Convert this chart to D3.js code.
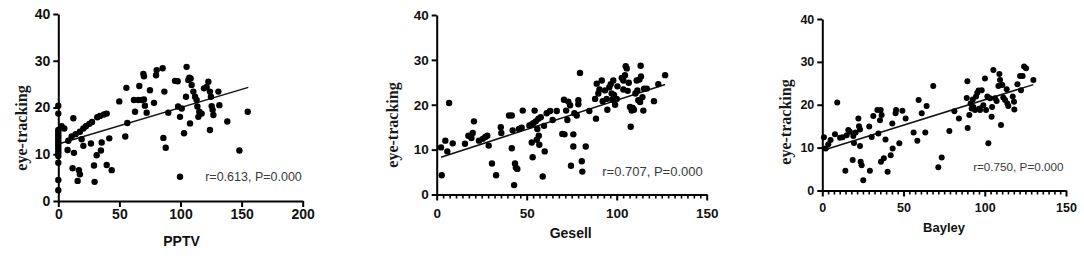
<!DOCTYPE html>
<html><head><meta charset="utf-8">
<script src="https://cdn.jsdelivr.net/npm/d3@7/dist/d3.min.js"></script>
<style>body{margin:0;background:#fff}svg{display:block}</style>
</head><body>
<svg id="c" width="1084" height="256"></svg>
<script>
// ---------- DATA ----------
const pptvX = [0,0,0,0,0,0,0,0,0,0,0,0,0,0,0,0,0,
  2.7,4.9,8.2,7.6,12.3,12.8,11.7,16.9,15.8,17.7,10.9,14.2,17.7,20.5,22.6,25.4,27.6,31.9,34.1,37.4,39.6,
  19.1,20.5,26.7,29.2,29.7,31.4,34.9,35.5,39.6,43.7,41.7,49.9,54.8,55.7,56.5,61.9,62.8,65.5,66.3,68.2,
  69.6,70.1,70.1,70.9,72.3,75,78.3,80,80.5,85.4,86,86.8,87.9,90,95.5,97.7,98,99.6,99.6,101,102.9,104.5,
  105,106.4,107.2,108.3,109.1,107.8,110.5,111.9,113.2,113.8,114.6,115.4,117.3,119.2,121.4,122.8,124.1,
  124.1,124.9,125.5,126.3,126.9,131,131.8,138.3,148.2,155];
const pptvY = [20.4,18.7,15.2,14.8,14.3,13.8,13.3,12.8,12.3,11.8,11.3,10.7,10.2,9.6,8.2,4.5,2.3,
  16.0,15.5,12.9,10.9,17.7,10.3,7.0,6.6,4.3,5.7,13.8,14.3,14.8,15.5,16.0,16.5,16.9,17.9,18.2,18.5,18.7,
  13.2,11.8,12.3,7.6,4.1,9.8,10.8,12.5,7.7,6.6,13.4,21.3,13.8,24.2,16.7,21.6,19.1,21.6,24.6,21.6,
  27.2,26.7,21.7,20.4,18.9,23.7,21.0,26.9,28.0,28.4,13.5,23.4,11.4,18.9,25.7,25.6,20.2,18.0,5.2,19.8,14.5,22.3,
  28.7,25.9,26.4,26.2,24.8,16.6,23.4,22.3,21.6,20.2,18.0,19.1,18.7,24.1,24.4,25.5,15.2,
  23.4,22.3,20.3,19.5,18.4,23.4,20.5,17.0,10.8,19.1];
const pptvFitX = [0, 155.5];
const pptvFitY = [12.2, 24.3];

const gesellX = [2.8,2.4,4.8,5.9,6.9,8.9,15.7,17.6,19.3,20,20.7,23.5,25.6,27,28.1,28.9,30.7,33,35.6,35.9,
  40.2,41.7,41.7,42.2,43,43.5,44,44.8,45.7,47.2,47.8,51.5,52.8,52.8,53.3,53.7,54.4,55,55.6,55.9,56.5,56.7,
  57,57.8,58.9,59.6,60,61.1,63,64.4,66.7,69.8,70.7,71,71.9,72.6,73.1,74.1,74.6,75.9,75.9,76.5,77.8,78.7,
  78.7,79.6,80.6,80.9,82.8,84.8,88.5,88,88.9,89.8,90.4,91.7,92.2,93.5,94.4,94.8,95.9,96.7,97.2,97.6,98.1,
  98.5,99.1,100,100.4,102.8,103.7,103.7,104.6,105,105.6,106.1,106.7,107.4,107.8,108.3,108.9,109.6,110.4,
  111.1,111.5,112,112.6,113,113.3,113.5,114.3,114.8,115.2,116.7,120.7,123.1,126.9];
const gesellY = [4.3,10.5,12.0,9.6,20.4,11.4,11.3,13.1,12.6,13.7,16.3,12.0,12.4,12.8,13.1,10.9,6.9,4.3,15.0,13.7,
  17.6,17.6,10.3,14.3,2.1,6.9,6.0,5.7,14.6,14.9,18.7,15.4,15.6,11.6,8.3,15.9,18.7,16.3,12.2,14.6,16.9,13.1,
  11.1,17.2,4.0,15.3,9.6,18.1,18.6,16.6,18.6,13.5,21.1,13.4,18.7,16.6,20.7,19.9,6.4,13.4,10.7,18.1,17.6,21.0,
  20.1,27.1,7.4,5.1,10.7,18.6,16.9,21.3,24.7,22.5,23.4,25.4,20.8,23.2,21.3,18.9,23.9,24.6,22.5,21.1,25.4,
  22.2,20.0,21.3,24.1,26.0,25.4,23.4,26.6,28.6,28.1,23.1,24.9,19.5,15.1,18.7,19.3,18.9,22.5,
  25.4,23.2,21.0,25.6,20.6,28.7,26.3,21.7,18.7,23.6,23.6,20.8,24.6,26.6];
const gesellFitX = [2.4, 126.9];
const gesellFitY = [8.3, 24.5];

const bayleyX = [1.0,2.1,3.7,5.1,7.8,9.2,10.9,12.5,14.2,15,16,17,18.7,19.1,19.5,20.5,22.2,22.6,23.2,23.2,
  23.6,24.2,25.2,28.9,29.3,30.4,31.4,33.9,34.5,35.5,35.9,36.1,36.5,37.9,38.9,40.2,42.1,43.1,43.3,45.1,
  45.4,47.4,49.3,51.3,56.2,58.5,59.3,61.2,63.4,64.2,68.3,71.4,73.5,78.2,81.3,84.1,88.9,89.3,89.5,90.5,
  91.3,91.9,92.6,93,94,94.6,95.4,96.2,96.7,97.1,98.1,99.1,100.1,100.8,101.6,102.2,103.2,104.2,104.5,105.3,
  106.3,107.3,108.4,109,109.4,110,110.8,111.4,112.5,113.5,113.9,114.5,117.2,118,118.2,120.1,121.7,122.3,
  123.3,124.2,125.4,129.9];
const bayleyY = [12.4,9.8,10.8,11.8,13.1,20.5,12.3,12.4,4.6,12.9,14.1,13.7,7.1,12.7,11.1,13.5,16.8,15.0,14.2,10.4,
  6.7,5.9,2.4,14.9,4.6,12.5,17.4,18.8,13.3,16.4,18.8,6.7,17.6,7.5,11.9,4.4,8.2,15.6,9.8,18.0,
  18.8,11.0,18.6,16.8,13.5,11.6,21.1,18.0,13.5,19.7,24.4,5.4,7.7,13.9,18.5,16.8,21.6,25.5,14.6,17.6,
  20.3,19.1,21.2,19.5,18.8,21.9,22.8,23.3,19.1,18.8,23.4,19.9,26.1,18.8,21.9,11.0,21.5,17.2,19.5,28.1,
  21.5,20.9,24.4,27.2,25.8,15.3,24.6,21.7,21.1,23.6,20.3,19.7,21.9,20.7,18.9,24.8,26.7,23.4,
  26.7,28.9,28.5,25.8];
const bayleyFitX = [0.6, 129.9];
const bayleyFitY = [9.4, 24.7];

const pptvTicks = [0, 50, 100, 150, 200];
const gesellTicks = [0, 50, 100, 150];
const bayleyTicks = [0, 50, 100, 150];
const yTicks = [0, 10, 20, 30, 40];
const xLabels = ["PPTV", "Gesell", "Bayley"];
const yLabel = "eye-tracking";
const annotations = ["r=0.613, P=0.000", "r=0.707, P=0.000", "r=0.750, P=0.000"];

// ---------- LAYOUT / STYLE ----------
const panels = [
  {xs: pptvX, ys: pptvY, fx: pptvFitX, fy: pptvFitY, ticks: pptvTicks, xmax: 200, minor: 0,
   left: 58.3, right: 302.7, top: 14, bottom: 201, r: 3.2, fs: 14, xPad: 2,
   xl: [181.5, 246], yl: [27, 128], ann: [253.5, 181], annFs: 12.5, lblFs: 14},
  {xs: gesellX, ys: gesellY, fx: gesellFitX, fy: gesellFitY, ticks: gesellTicks, xmax: 150, minor: 14,
   left: 436.7, right: 706.7, top: 15, bottom: 194.5, r: 3.2, fs: 13.5, xPad: 8,
   xl: [570.7, 238], yl: [398, 125], ann: [652.5, 175.5], annFs: 13, lblFs: 14},
  {xs: bayleyX, ys: bayleyY, fx: bayleyFitX, fy: bayleyFitY, ticks: bayleyTicks, xmax: 150, minor: 14,
   left: 822.3, right: 1066, top: 19, bottom: 190.5, r: 3, fs: 12.5, xPad: 7,
   xl: [944, 232], yl: [791, 122], ann: [1018.3, 171], annFs: 11.7, lblFs: 13}
];

const svg = d3.select("#c");
const sans = "'Liberation Sans', Arial, sans-serif";
const serif = "'Liberation Serif', 'Times New Roman', serif";

panels.forEach((p, i) => {
  const x = d3.scaleLinear().domain([0, p.xmax]).range([p.left, p.right]);
  const y = d3.scaleLinear().domain([0, 40]).range([p.bottom, p.top]);
  const g = svg.append("g");

  if (p.minor) {
    const step = 50 / p.minor;
    const minorVals = d3.range(0, p.xmax + 1e-6, step).filter(v => Math.abs(v / 50 - Math.round(v / 50)) > 1e-6);
    const mg = g.append("g").attr("transform", `translate(0,${p.bottom})`)
      .call(d3.axisBottom(x).tickValues(minorVals).tickSize(4).tickFormat(""));
    mg.select(".domain").remove();
    mg.selectAll("line").attr("stroke", "#000").attr("stroke-width", 1.6);
  }

  const xa = g.append("g").attr("transform", `translate(0,${p.bottom})`)
    .call(d3.axisBottom(x).tickValues(p.ticks).tickSize(6).tickSizeOuter(0).tickPadding(p.xPad));
  const ya = g.append("g").attr("transform", `translate(${p.left},0)`)
    .call(d3.axisLeft(y).tickValues(yTicks).tickSize(5).tickSizeOuter(0).tickPadding(3));
  [xa, ya].forEach(a => {
    a.select(".domain").attr("stroke", "#000").attr("stroke-width", 2);
    a.selectAll(".tick line").attr("stroke", "#000").attr("stroke-width", 2);
    a.selectAll("text").attr("font-family", sans).attr("font-weight", "bold")
      .attr("font-size", p.fs).attr("fill", "#111");
  });

  g.append("line")
    .attr("x1", x(p.fx[0])).attr("y1", y(p.fy[0]))
    .attr("x2", x(p.fx[1])).attr("y2", y(p.fy[1]))
    .attr("stroke", "#111").attr("stroke-width", 1.5);

  g.selectAll("circle").data(p.xs.map((v, k) => [v, p.ys[k]])).join("circle")
    .attr("cx", d => x(d[0])).attr("cy", d => y(d[1])).attr("r", p.r).attr("fill", "#000");

  g.append("text").attr("x", p.xl[0]).attr("y", p.xl[1]).attr("text-anchor", "middle")
    .attr("font-family", sans).attr("font-weight", "bold").attr("font-size", p.lblFs)
    .attr("fill", "#111").text(xLabels[i]);
  g.append("text").attr("transform", `translate(${p.yl[0]},${p.yl[1]}) rotate(-90)`)
    .attr("text-anchor", "middle").attr("font-family", serif).attr("font-weight", "bold")
    .attr("font-size", 16).attr("fill", "#1a1a1a").text(yLabel);
  g.append("text").attr("x", p.ann[0]).attr("y", p.ann[1]).attr("text-anchor", "middle")
    .attr("font-family", sans).attr("font-size", p.annFs).attr("fill", "#3a3a3a").text(annotations[i]);
});
</script>
</body></html>
